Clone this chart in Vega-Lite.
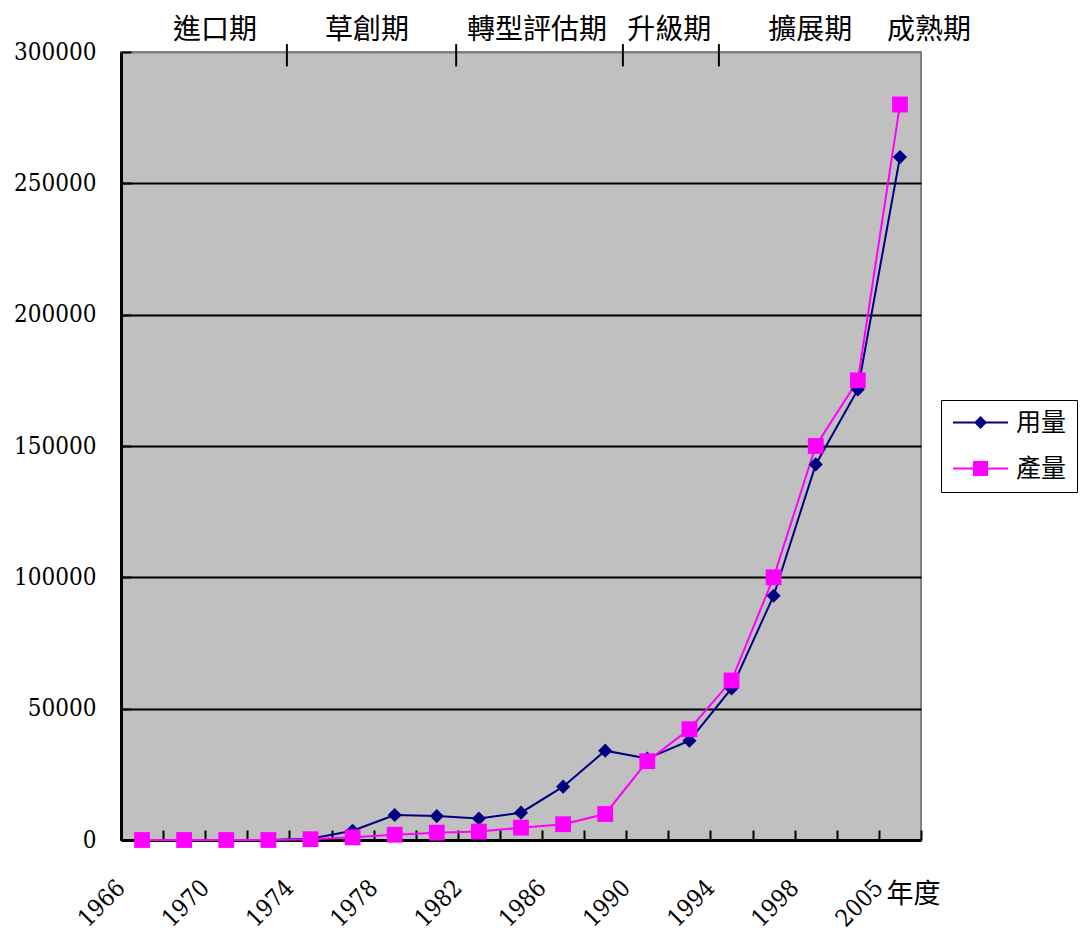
{
  "$schema": "https://vega.github.io/schema/vega-lite/v6.json",
  "width": 800,
  "height": 788,
  "autosize": {"type": "none"},
  "padding": {"left": 121, "top": 52, "right": 161, "bottom": 102},
  "background": "white",
  "config": {
    "view": {"fill": "#C0C0C0", "stroke": "#808080", "strokeWidth": 2}
  },
  "resolve": {"scale": {"x": "independent"}},
  "layer": [
    {
      "data": {
        "values": [
          {"year": "1966", "series": "用量", "value": 0},
          {"year": "1968", "series": "用量", "value": 0},
          {"year": "1970", "series": "用量", "value": 0},
          {"year": "1972", "series": "用量", "value": 0},
          {"year": "1974", "series": "用量", "value": 500},
          {"year": "1976", "series": "用量", "value": 3500},
          {"year": "1978", "series": "用量", "value": 9500},
          {"year": "1980", "series": "用量", "value": 9100},
          {"year": "1982", "series": "用量", "value": 8200},
          {"year": "1984", "series": "用量", "value": 10400},
          {"year": "1986", "series": "用量", "value": 20300},
          {"year": "1988", "series": "用量", "value": 34000},
          {"year": "1990", "series": "用量", "value": 31000},
          {"year": "1992", "series": "用量", "value": 37800},
          {"year": "1994", "series": "用量", "value": 57700},
          {"year": "1996", "series": "用量", "value": 93000},
          {"year": "1998", "series": "用量", "value": 143000},
          {"year": "2000", "series": "用量", "value": 171500},
          {"year": "2005", "series": "用量", "value": 260000},
          {"year": "1966", "series": "產量", "value": 0},
          {"year": "1968", "series": "產量", "value": 0},
          {"year": "1970", "series": "產量", "value": 0},
          {"year": "1972", "series": "產量", "value": 0},
          {"year": "1974", "series": "產量", "value": 300},
          {"year": "1976", "series": "產量", "value": 1000},
          {"year": "1978", "series": "產量", "value": 2000},
          {"year": "1980", "series": "產量", "value": 2800},
          {"year": "1982", "series": "產量", "value": 3200},
          {"year": "1984", "series": "產量", "value": 4700},
          {"year": "1986", "series": "產量", "value": 6000},
          {"year": "1988", "series": "產量", "value": 9900},
          {"year": "1990", "series": "產量", "value": 30000},
          {"year": "1992", "series": "產量", "value": 42200},
          {"year": "1994", "series": "產量", "value": 60700},
          {"year": "1996", "series": "產量", "value": 100000},
          {"year": "1998", "series": "產量", "value": 150000},
          {"year": "2000", "series": "產量", "value": 175000},
          {"year": "2005", "series": "產量", "value": 280000}
        ]
      },
      "encoding": {
        "x": {
          "field": "year",
          "type": "nominal",
          "sort": null,
          "scale": {"type": "band", "paddingInner": 0, "paddingOuter": 0},
          "axis": {
            "title": "年度",
            "titleFont": "Noto Sans CJK TC",
            "titleFontSize": 27,
            "titleFontWeight": "normal",
            "titleColor": "black",
            "titleAngle": 0,
            "titleAlign": "left",
            "titleBaseline": "middle",
            "titleX": 765,
            "titleY": 54,
            "labelFont": "DejaVu Serif Condensed",
            "labelColor": "black",
            "labelAngle": -45,
            "labelAlign": "right",
            "labelBaseline": "middle",
            "labelFontSize": 24,
            "labelPadding": 54,
            "labelOffset": -21,
            "labelOverlap": false,
            "labelExpr": "indexof(['1966','1970','1974','1978','1982','1986','1990','1994','1998','2005'], datum.value) >= 0 ? datum.label : ''",
            "tickBand": "extent",
            "tickSize": -10,
            "tickColor": "black",
            "tickWidth": 2,
            "domainColor": "black",
            "domainWidth": 3
          }
        },
        "y": {
          "field": "value",
          "type": "quantitative",
          "scale": {"domain": [0, 300000], "nice": false},
          "axis": {
            "title": null,
            "values": [0, 50000, 100000, 150000, 200000, 250000, 300000],
            "format": "d",
            "labelFont": "DejaVu Serif Condensed",
            "labelColor": "black",
            "labelFontSize": 24,
            "labelPadding": 35,
            "tickSize": -10,
            "tickColor": "black",
            "tickWidth": 2,
            "domainColor": "black",
            "domainWidth": 3,
            "grid": true,
            "gridWidth": 2,
            "gridOpacity": 1,
            "gridColor": {"condition": {"test": "datum.value === 300000", "value": "#808080"}, "value": "black"}
          }
        },
        "color": {
          "field": "series",
          "type": "nominal",
          "sort": ["用量", "產量"],
          "scale": {"domain": ["用量", "產量"], "range": ["#000080", "#FF00FF"]},
          "legend": {
            "title": null,
            "orient": "none",
            "legendX": 820,
            "legendY": 348,
            "direction": "vertical",
            "strokeColor": "black",
            "fillColor": "white",
            "padding": 10,
            "labelFont": "Noto Sans CJK TC",
            "labelFontSize": 25,
            "labelColor": "black",
            "symbolSize": 100,
            "symbolOffset": 17,
            "labelOffset": 23,
            "rowPadding": 20,
            "encode": {
              "symbols": {
                "update": {
                  "shape": {"signal": "datum.value === '用量' ? 'M-5.5,-0.2H5.5V0.2H-5.5Z M0,-1.3L1.3,0L0,1.3L-1.3,0Z' : 'M-5.5,-0.2H5.5V0.2H-5.5Z M-1.5,-1.5H1.5V1.5H-1.5Z'"},
                  "fill": {"signal": "datum.value === '用量' ? '#000080' : '#FF00FF'"},
                  "stroke": {"value": "transparent"},
                  "strokeWidth": {"value": 0},
                  "opacity": {"value": 1}
                }
              }
            }
          }
        }
      },
      "layer": [
        {"mark": {"type": "line", "strokeWidth": 2}},
        {
          "transform": [{"filter": "datum.series === '用量'"}],
          "mark": {"type": "point", "shape": "diamond", "size": 200, "filled": true, "opacity": 1}
        },
        {
          "transform": [{"filter": "datum.series === '產量'"}],
          "mark": {"type": "point", "shape": "square", "size": 250, "filled": true, "opacity": 1}
        }
      ]
    },
    {
      "data": {
        "values": [
          {"phase": "進口期", "pos": 2.23, "level": 308000},
          {"phase": "草創期", "pos": 5.84, "level": 308000},
          {"phase": "轉型評估期", "pos": 9.88, "level": 308000},
          {"phase": "升級期", "pos": 13.02, "level": 308000},
          {"phase": "擴展期", "pos": 16.37, "level": 308000},
          {"phase": "成熟期", "pos": 19.19, "level": 308000}
        ]
      },
      "mark": {"type": "text", "font": "Noto Sans CJK TC", "fontSize": 28, "color": "black", "baseline": "middle", "align": "center"},
      "encoding": {
        "x": {"field": "pos", "type": "quantitative", "scale": {"domain": [0, 19], "nice": false, "zero": false}, "axis": null},
        "y": {"field": "level", "type": "quantitative"},
        "text": {"field": "phase"}
      }
    },
    {
      "data": {
        "values": [
          {"pos": 3.94, "top": 303000, "bottom": 294500},
          {"pos": 7.96, "top": 303000, "bottom": 294500},
          {"pos": 11.92, "top": 303000, "bottom": 294500},
          {"pos": 14.2, "top": 303000, "bottom": 294500}
        ]
      },
      "mark": {"type": "rule", "color": "black", "strokeWidth": 2},
      "encoding": {
        "x": {"field": "pos", "type": "quantitative", "scale": {"domain": [0, 19], "nice": false, "zero": false}, "axis": null},
        "y": {"field": "top", "type": "quantitative"},
        "y2": {"field": "bottom"}
      }
    }
  ]
}
